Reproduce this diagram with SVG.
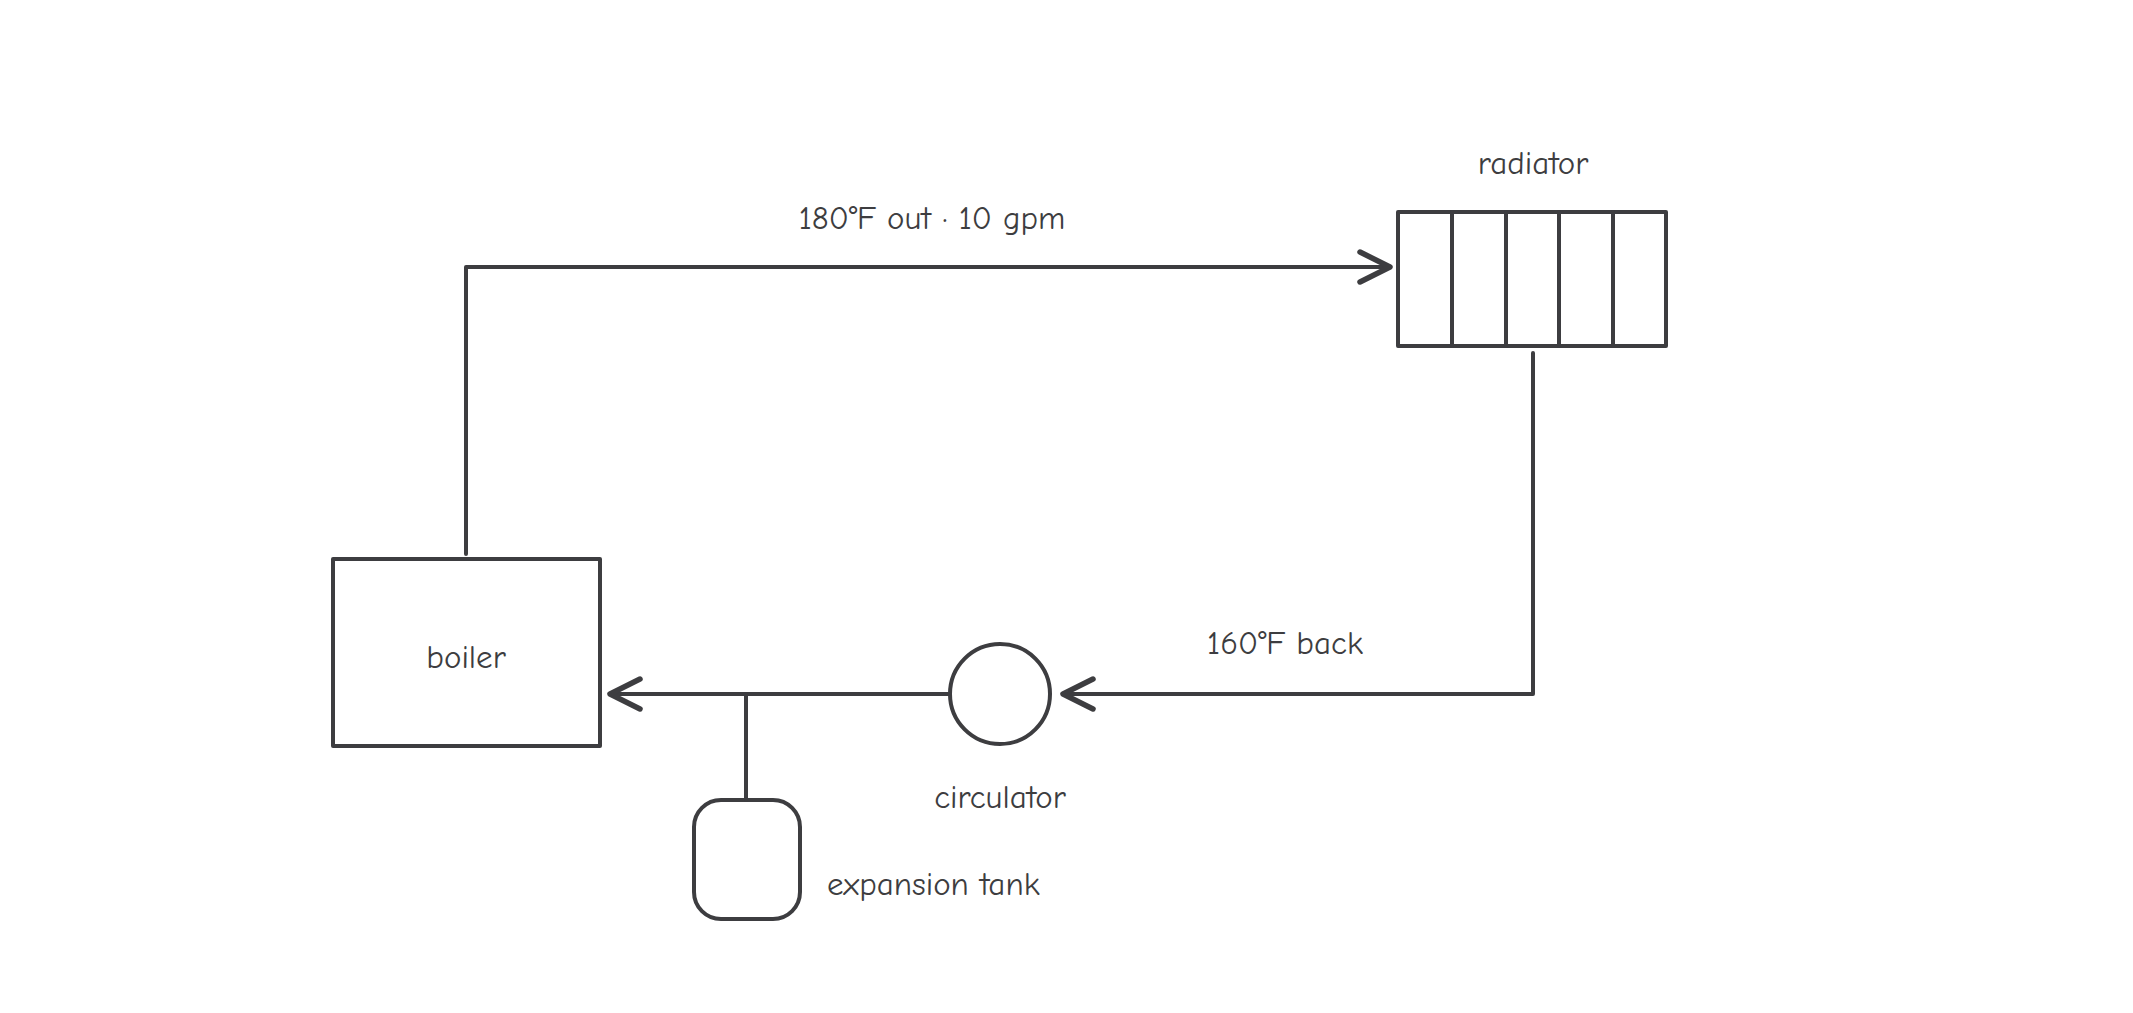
<svg xmlns="http://www.w3.org/2000/svg" width="2133" height="1013" viewBox="0 0 2133 1013">
<style>
.s{fill:none;stroke:#3d3d40;stroke-width:4;stroke-linecap:round;stroke-linejoin:round}
.a{stroke-width:5.5}
.t{font-family:"Comic Neue","Liberation Sans",sans-serif;font-size:33px;fill:#3d3d40;text-anchor:middle;dominant-baseline:central}
</style>
<rect width="2133" height="1013" fill="#fff"/>
<g id="radiator">
<rect class="s" x="1398" y="212" width="268" height="134"/>
<path class="s" d="M1452 212V346M1506 212V346M1559 212V346M1613 212V346"/>
<text class="t" x="1533" y="163">radiator</text>
</g>
<g id="boiler">
<rect class="s" x="333" y="559" width="267" height="187"/>
<text class="t" x="466" y="657">boiler</text>
</g>
<g id="circulator">
<circle class="s" cx="1000" cy="694" r="50"/>
<text class="t" x="1000" y="797">circulator</text>
</g>
<g id="expansion-tank">
<rect class="s" x="694" y="800" width="106" height="119" rx="27"/>
<text class="t" x="827" y="884" style="text-anchor:start">expansion tank</text>
</g>
<g id="connectors">
<path class="s" d="M466 554V267H1390"/>
<path class="s a" d="M1360 252L1390 267L1360 282"/>
<path class="s" d="M1533 353V694H1063"/>
<path class="s a" d="M1093 679L1063 694L1093 709"/>
<path class="s" d="M950 694H610"/>
<path class="s a" d="M640 679L610 694L640 709"/>
<path class="s" d="M746 694V800"/>
<text class="t" x="932" y="218">180°F out · 10 gpm</text>
<text class="t" x="1285" y="643">160°F back</text>
</g>
</svg>
